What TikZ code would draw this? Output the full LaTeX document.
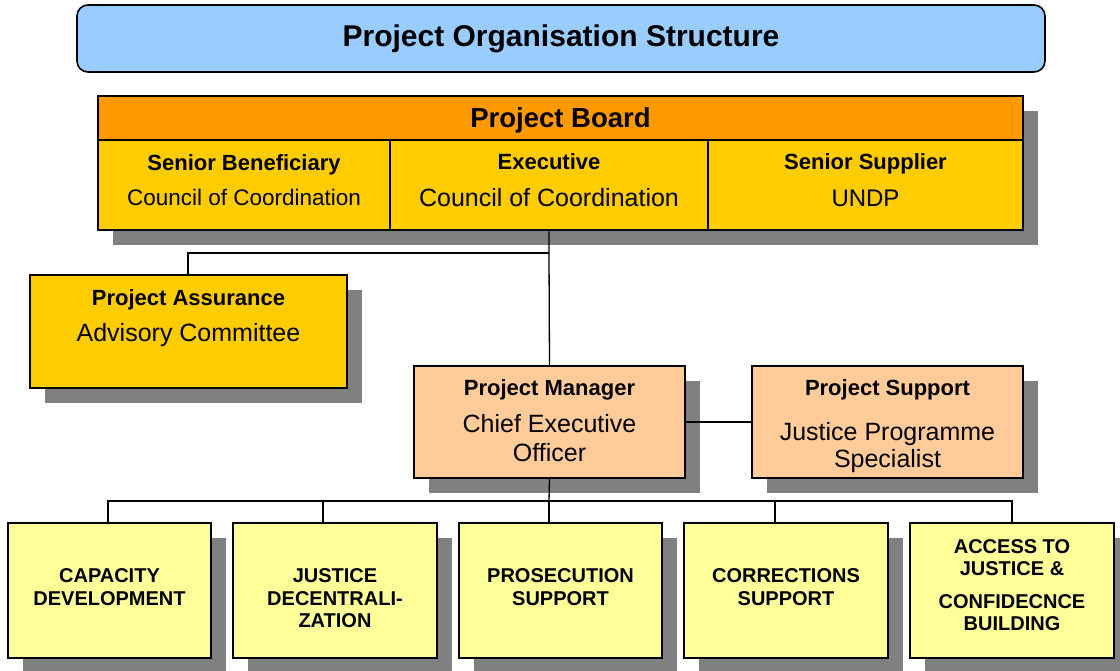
\documentclass[tikz,border=0pt]{standalone}
\usepackage{fontspec}
\setmainfont{Liberation Sans}
\usetikzlibrary{positioning,shadows}

\definecolor{titleblue}{HTML}{99CCFF}
\definecolor{boardorange}{HTML}{FF9900}
\definecolor{boardyellow}{HTML}{FFCC00}
\definecolor{managerpeach}{HTML}{FFCC99}
\definecolor{teampale}{HTML}{FFFF99}
\definecolor{shadowgray}{HTML}{808080}

\newcommand\rolehead[1]{{\fontsize{22}{26}\selectfont\bfseries #1}}

\tikzset{
    box/.style={draw, line width=1.6pt, inner sep=0pt},
    shadowed/.style={drop shadow={shadow xshift=15pt, shadow yshift=-15pt, fill=shadowgray, opacity=1}},
    roletext/.style={align=center, inner sep=0pt, font=\fontsize{25}{29}\selectfont},
    teamtext/.style={align=center, inner sep=0pt, font=\fontsize{20}{23}\selectfont\bfseries},
    link/.style={line width=1.3pt}
}

\begin{document}
\begin{tikzpicture}[x=1pt, y=-1pt]
    \useasboundingbox (0,0) rectangle (1120,670);

    % heading
    \node[box, rounded corners=11pt, fill=titleblue, minimum width=968pt, minimum height=67pt,
        font=\fontsize{30}{36}\selectfont\bfseries] (title) at (561,38.5) {Project Organisation Structure};

    % board
    \node[box, shadowed, fill=boardorange, minimum width=925pt, minimum height=44pt, text depth=0pt,
        font=\fontsize{27.5}{32}\selectfont\bfseries] (board) at (560.5,118) {Project Board};
    \node[box, shadowed, fill=boardyellow, minimum width=292pt, minimum height=90pt] (ben) at (244,185) {};
    \node[box, shadowed, fill=boardyellow, minimum width=318pt, minimum height=90pt] (exec) at (549,185) {};
    \node[box, shadowed, fill=boardyellow, minimum width=315pt, minimum height=90pt] (sup) at (865.5,185) {};
    \node[roletext, below=15pt of ben.north] (benT) {\rolehead{Senior Beneficiary}\\[6pt]{\fontsize{22.5}{29}\selectfont Council of Coordination}};
    \node[roletext, below=14pt of exec.north] (execT) {\rolehead{Executive}\\[8pt]Council of Coordination};
    \node[roletext, below=14pt of sup.north] (supT) {\rolehead{Senior Supplier}\\[8pt]{\fontsize{24}{29}\selectfont UNDP}};

    % assurance, manager, support
    \node[box, shadowed, fill=boardyellow, minimum width=317pt, minimum height=113pt] (assur) at (188.5,331.5) {};
    \node[roletext, below=15pt of assur.north] (assurT) {\rolehead{Project Assurance}\\[7pt]Advisory Committee};
    \node[box, shadowed, fill=managerpeach, minimum width=271pt, minimum height=112pt] (mgr) at (549.5,422) {};
    \node[roletext, below=14pt of mgr.north] (mgrT) {\rolehead{Project Manager}\\[8pt]Chief Executive\\Officer};
    \node[box, shadowed, fill=managerpeach, minimum width=271pt, minimum height=112pt] (psup) at (887.5,422) {};
    \node[roletext, below=14pt of psup.north] (psupT) {\rolehead{Project Support}\\[16pt]Justice Programme\\[-2pt]Specialist};

    % project teams
    \node[box, shadowed, fill=teampale, minimum width=203pt, minimum height=135pt] (cap) at (109.5,590.5) {};
    \node[box, shadowed, fill=teampale, minimum width=204pt, minimum height=135pt] (just) at (335,590.5) {};
    \node[box, shadowed, fill=teampale, minimum width=203pt, minimum height=135pt] (pros) at (560.5,590.5) {};
    \node[box, shadowed, fill=teampale, minimum width=204pt, minimum height=135pt] (corr) at (786,590.5) {};
    \node[box, shadowed, fill=teampale, minimum width=204pt, minimum height=135pt] (acc) at (1012,590.5) {};
    \node[teamtext, below=46pt of cap.north] (capT) {CAPACITY\\DEVELOPMENT};
    \node[teamtext, below=46pt of just.north] (justT) {JUSTICE\\DECENTRALI-\\[-1pt]ZATION};
    \node[teamtext, below=46pt of pros.north] (prosT) {PROSECUTION\\SUPPORT};
    \node[teamtext, below=46pt of corr.north] (corrT) {CORRECTIONS\\SUPPORT};
    \node[teamtext, below=17pt of acc.north] (accT) {ACCESS TO\\[-1pt]JUSTICE \&\\[10pt]CONFIDECNCE\\[-1pt]BUILDING};

    % lines
    \coordinate (split) at (549,253);
    \coordinate (bus) at (549,501);
    \draw[link] (exec.south) -- (split) -- (mgr.north);
    \draw[link] (split) -| ([xshift=-0.5pt]assur.north);
    \draw[link] (mgr.east) -- (psup.west);
    \draw[link] (mgr.south) -- (bus);
    \foreach \team/\dx in {cap/-1.5, just/-12, pros/-11.5, corr/-11, acc/0}
        \draw[link] (bus) -| ([xshift=\dx pt]\team.north);
\end{tikzpicture}
\end{document}
